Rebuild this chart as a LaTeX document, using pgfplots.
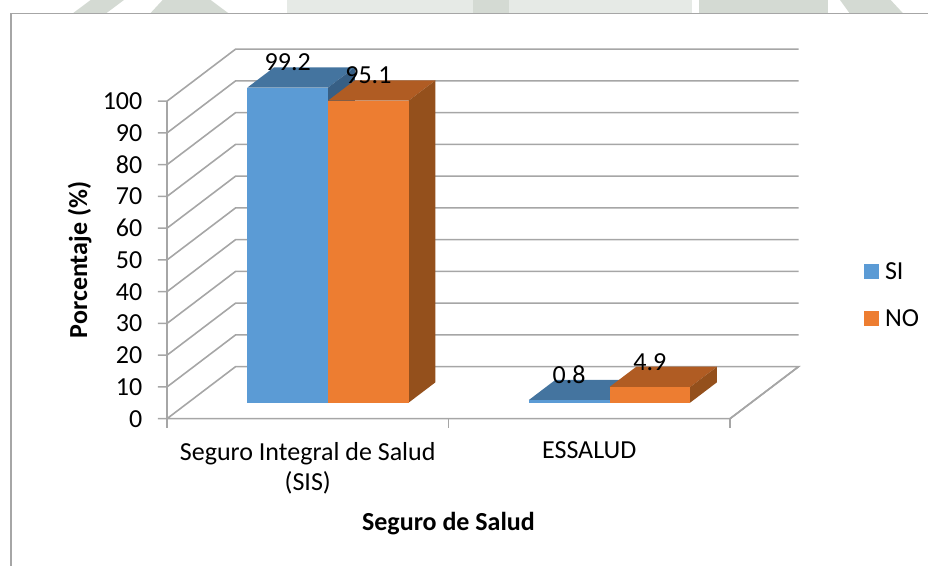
\documentclass[border=0pt]{standalone}
\usepackage{fontspec}
\setmainfont{Carlito}
\usepackage{pgfplots}
\pgfplotsset{compat=1.18}
\definecolor{sifront}{HTML}{5B9BD5}
\definecolor{sitop}{HTML}{44749F}
\definecolor{siside}{HTML}{375F85}
\definecolor{nofront}{HTML}{ED7D31}
\definecolor{notop}{HTML}{B05C23}
\definecolor{noside}{HTML}{94501C}
\definecolor{linegray}{HTML}{A6A6A6}
\definecolor{wmdark}{HTML}{D4DAD3}
\definecolor{wmlight}{HTML}{E6EAE6}
\newcommand{\fsz}{\fontsize{19.5}{23}\selectfont}
% x0, x1, x label, value, front, top, side
\newcommand{\barra}[7]{%
  \addplot3[forget plot,fill=#6,draw=none] coordinates {(#1,0.31,#4)(#2,0.31,#4)(#2,0.70,#4)(#1,0.70,#4)};
  \addplot3[forget plot,fill=#7,draw=none] coordinates {(#2,0.31,0)(#2,0.70,0)(#2,0.70,#4)(#2,0.31,#4)};
  \addplot3[forget plot,fill=#5,draw=none] coordinates {(#1,0.31,0)(#2,0.31,0)(#2,0.31,#4)(#1,0.31,#4)};
  \node[font=\fsz,inner sep=0pt,anchor=center] at (axis cs:#3,0.31,#4) [yshift=19pt] {#4};
}
\begin{document}
\begin{tikzpicture}
\path[use as bounding box] (0,0) rectangle (696pt,424.5pt);
% watermark behind the page top
\fill[wmdark] (55pt,414.8pt) -- (68pt,424.5pt) -- (93pt,424.5pt) -- (80pt,414.8pt) -- cycle;
\fill[wmdark] (113pt,414.8pt) -- (122pt,424.5pt) -- (158pt,424.5pt) -- (171pt,414.8pt) -- cycle;
\fill[wmlight] (215pt,414.8pt) rectangle (355pt,424.5pt);
\fill[wmdark] (355pt,414.8pt) rectangle (382pt,424.5pt);
\fill[wmlight] (382pt,414.8pt) rectangle (519pt,424.5pt);
\fill[wmdark] (524pt,414.8pt) rectangle (621pt,424.5pt);
\fill[wmdark] (637pt,414.8pt) -- (630pt,424.5pt) -- (668pt,424.5pt) -- (677pt,414.8pt) -- cycle;
\draw[linegray,line width=0.9pt] (8.2pt,0) -- (8.2pt,414.5pt) -- (696pt,414.5pt);
\begin{axis}[
  at={(125.25pt,110.475pt)}, anchor=origin,
  x={(211.125pt,0pt)}, y={(51.375pt,39pt)}, z={(0pt,2.38125pt)},
  xmin=0, xmax=2, ymin=0, ymax=1, zmin=0, zmax=100,
  clip=false, axis lines=left, axis line style={-,draw=linegray,line width=1.2pt},
  major tick length=0pt,
  xtick={0.5,1.5}, xticklabels={Seguro Integral de Salud\\(SIS),ESSALUD},
  ytick=\empty, ztick={0,10,...,100},
  x tick label style={align=center,anchor=north,yshift=-14pt},
  z tick label style={anchor=east,xshift=-15pt,yshift=0pt},
  tick label style={font=\fsz},
  /pgf/number format/assume math mode=true,
  xlabel={\textbf{Seguro de Salud}},
  xlabel style={at={(axis cs:1,0,0)},anchor=center,yshift=-79pt,font=\fsz},
  zlabel={\textbf{Porcentaje (\%)}},
  zlabel style={at={(axis cs:0,0,50)},anchor=center,xshift=0pt,yshift=65.5pt,font=\fsz},
  legend style={at={(1.1495,0.334)},anchor=center,draw=none,fill=none,font=\fsz,row sep=17pt,
    /tikz/every odd column/.append style={column sep=2.5pt}},
  legend cell align=left,
  legend image code/.code={\fill[#1] (0pt,-5.6pt) rectangle (11.2pt,5.6pt);},
  no markers,
]
\addlegendimage{fill=sifront,draw=none}
\addlegendentry{SI}
\addlegendimage{fill=nofront,draw=none}
\addlegendentry{NO}
% grid on side wall and back wall, with the horizontal tick on the front end
\pgfplotsinvokeforeach{10,20,...,100}{
  \addplot3[forget plot,draw=linegray,line width=1.2pt] coordinates {(-0.032,0,#1)(0,0,#1)(0,1,#1)(2,1,#1)};
}
\addplot3[forget plot,draw=linegray,line width=1.2pt] coordinates {(-0.032,0,0)(2,0,0)(2,1,0)(0,1,0)(0,0,0)};
% ticks under the floor
\pgfplotsinvokeforeach{0,1,2}{
  \addplot3[forget plot,draw=linegray,line width=1.2pt] coordinates {(#1,0,0)(#1,0,-2.8)};
}
\barra{0.21}{0.4967}{0.3533}{99.2}{sifront}{sitop}{siside}
\barra{0.4967}{0.7833}{0.64}{95.1}{nofront}{notop}{noside}
\barra{1.21}{1.4967}{1.3533}{0.8}{sifront}{sitop}{siside}
\barra{1.4967}{1.7833}{1.64}{4.9}{nofront}{notop}{noside}
\end{axis}
\end{tikzpicture}
\end{document}
